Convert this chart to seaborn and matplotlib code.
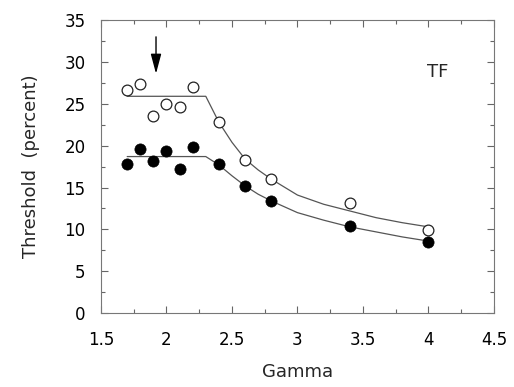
import matplotlib
matplotlib.use("Agg")
import matplotlib.pyplot as plt
import pandas as pd
import seaborn as sns
from matplotlib.ticker import MultipleLocator

# ── Data ────────────────────────────────────────────────────────────────────
gamma = [1.7, 1.8, 1.9, 2.0, 2.1, 2.2, 2.4, 2.6, 2.8, 3.4, 4.0]
open_thr = [26.6, 27.4, 23.6, 25.0, 24.6, 27.0, 22.8, 18.3, 16.0, 13.1, 9.9]
filled_thr = [17.8, 19.6, 18.2, 19.35, 17.2, 19.8, 17.8, 15.2, 13.4, 10.4, 8.45]

# fitted curves (flat segment then decline)
fit_x = [1.7, 2.3, 2.4, 2.5, 2.6, 2.7, 2.8, 3.0, 3.2, 3.4, 3.6, 3.8, 4.0]
fit_open = [25.9, 25.9, 22.8, 20.4, 18.4, 17.1, 16.0, 14.1, 13.0, 12.2, 11.4, 10.8, 10.3]
fit_filled = [18.7, 18.7, 17.7, 16.4, 15.2, 14.2, 13.4, 12.0, 11.1, 10.3, 9.7, 9.1, 8.6]

df = pd.DataFrame({"gamma": gamma, "open": open_thr, "filled": filled_thr})
fit = pd.DataFrame({"gamma": fit_x, "open": fit_open, "filled": fit_filled})

sns.set_style("ticks")
plt.rcParams["font.family"] = ["DejaVu Sans"]

fig = plt.figure(figsize=(5.14, 3.87), dpi=100)
ax = fig.add_axes([0.1965, 0.191, 0.7645, 0.757])

line_kw = dict(color="#555555", linewidth=0.9, ax=ax, legend=False)
sns.lineplot(data=fit, x="gamma", y="open", **line_kw)
sns.lineplot(data=fit, x="gamma", y="filled", **line_kw)

sns.scatterplot(data=df, x="gamma", y="open", s=60, facecolor="white",
                edgecolor="#222222", linewidth=0.9, ax=ax, zorder=3)
sns.scatterplot(data=df, x="gamma", y="filled", s=65, color="black",
                edgecolor="black", linewidth=0.5, ax=ax, zorder=3)

ax.set_xlim(1.5, 4.5)
ax.set_ylim(0, 35)
ax.xaxis.set_major_locator(MultipleLocator(0.5))
ax.xaxis.set_minor_locator(MultipleLocator(0.25))
ax.yaxis.set_major_locator(MultipleLocator(5))
ax.yaxis.set_minor_locator(MultipleLocator(2.5))
ax.xaxis.set_major_formatter(lambda v, p: f"{v:g}")

ax.tick_params(which="both", direction="in", top=True, right=True,
               colors="#666666", labelcolor="black", labelsize=12, width=0.8)
ax.tick_params(which="major", length=5)
ax.tick_params(which="minor", length=3)
ax.tick_params(axis="y", which="major", pad=11)
ax.tick_params(axis="x", which="major", pad=13)
for sp in ax.spines.values():
    sp.set_visible(True)
    sp.set_color("#777777")
    sp.set_linewidth(0.8)

ax.set_xlabel("Gamma", fontsize=13, labelpad=10)
ax.set_ylabel("Threshold  (percent)", fontsize=13, labelpad=18)

ax.text(4.07, 28.8, "TF", fontsize=13, ha="center", va="center")
ax.annotate("", xy=(1.92, 28.6), xytext=(1.92, 33.0),
            arrowprops=dict(arrowstyle="-|>,head_length=1.2,head_width=0.32",
                            color="black", lw=1.0, shrinkA=0, shrinkB=0))

fig.savefig("out.png", dpi=100)
